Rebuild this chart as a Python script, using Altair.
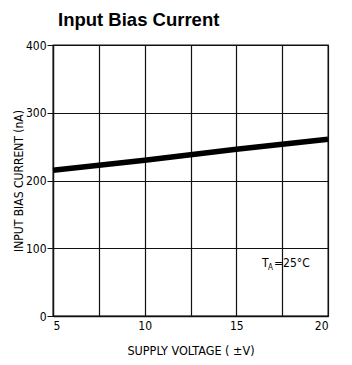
import altair as alt
import pandas as pd

voltage = [5, 10, 15, 20]
bias_current = [215, 230, 246, 261]

x_grid = [5, 7.5, 10, 12.5, 15, 17.5, 20]
y_grid = [0, 50, 100, 150, 200, 250, 300, 350, 400]

df = pd.DataFrame({"v": voltage, "i": bias_current})

FONT = "DejaVu Sans Condensed"

x_scale = alt.Scale(domain=[5, 20], nice=False, zero=False)
y_scale = alt.Scale(domain=[0, 400], nice=False)

line = alt.Chart(df).mark_line(color="black", strokeWidth=5.5, strokeCap="butt").encode(
    x=alt.X("v:Q", scale=x_scale,
            axis=alt.Axis(values=x_grid, grid=True, gridColor="#111", gridOpacity=1,
                          gridWidth=1.2, ticks=False, domainColor="#111", domainWidth=1.3,
                          labelExpr="datum.value % 5 == 0 ? datum.label : ''",
                          labelFont=FONT, labelFontSize=12, labelColor="black",
                          labelPadding=4, title="SUPPLY VOLTAGE ( ±V)",
                          titleFont=FONT, titleFontSize=12.5, titleFontWeight="normal",
                          titleColor="black", titlePadding=13)),
    y=alt.Y("i:Q", scale=y_scale,
            axis=alt.Axis(values=y_grid, grid=True, gridColor="#111", gridOpacity=1,
                          gridWidth=1.2, tickSize=6, tickColor="#111",
                          tickOpacity={"condition": {"test": "datum.value % 100 === 0", "value": 1}, "value": 0},
                          domainColor="#111", domainWidth=1.3,
                          labelExpr="datum.value % 100 == 0 ? datum.label : ''",
                          labelFont=FONT, labelFontSize=12, labelColor="black",
                          labelPadding=1, title="INPUT BIAS CURRENT (nA)",
                          titleFont=FONT, titleFontSize=12, titleFontWeight="normal",
                          titleColor="black", titlePadding=0)),
)

ann = pd.DataFrame({"v": [16.4], "i": [78]})
t_main = alt.Chart(ann).mark_text(text="T", font=FONT, fontSize=12, color="black", align="left", baseline="middle").encode(
    x="v:Q", y="i:Q")
t_sub = alt.Chart(ann).mark_text(text="A", font=FONT, fontSize=8, color="black", align="left", baseline="middle", dx=6, dy=5).encode(
    x="v:Q", y="i:Q")
t_rest = alt.Chart(ann).mark_text(text="=25°C", font=FONT, fontSize=12, color="black", align="left", baseline="middle", dx=12).encode(
    x="v:Q", y="i:Q")

chart = alt.layer(line, t_main, t_sub, t_rest).properties(
    width=275, height=271,
    title=alt.TitleParams("Input Bias Current", anchor="start", frame="group", font="Liberation Sans",
                          fontSize=18.5, fontWeight="bold", color="black", offset=10, dx=5),
    autosize=alt.AutoSizeParams(type="none"),
    padding={"left": 45, "top": 37, "right": 16, "bottom": 42},
).configure_view(stroke="#111", strokeWidth=1.3)

chart.save("out.html", embed_options={"renderer": "svg", "actions": False})
